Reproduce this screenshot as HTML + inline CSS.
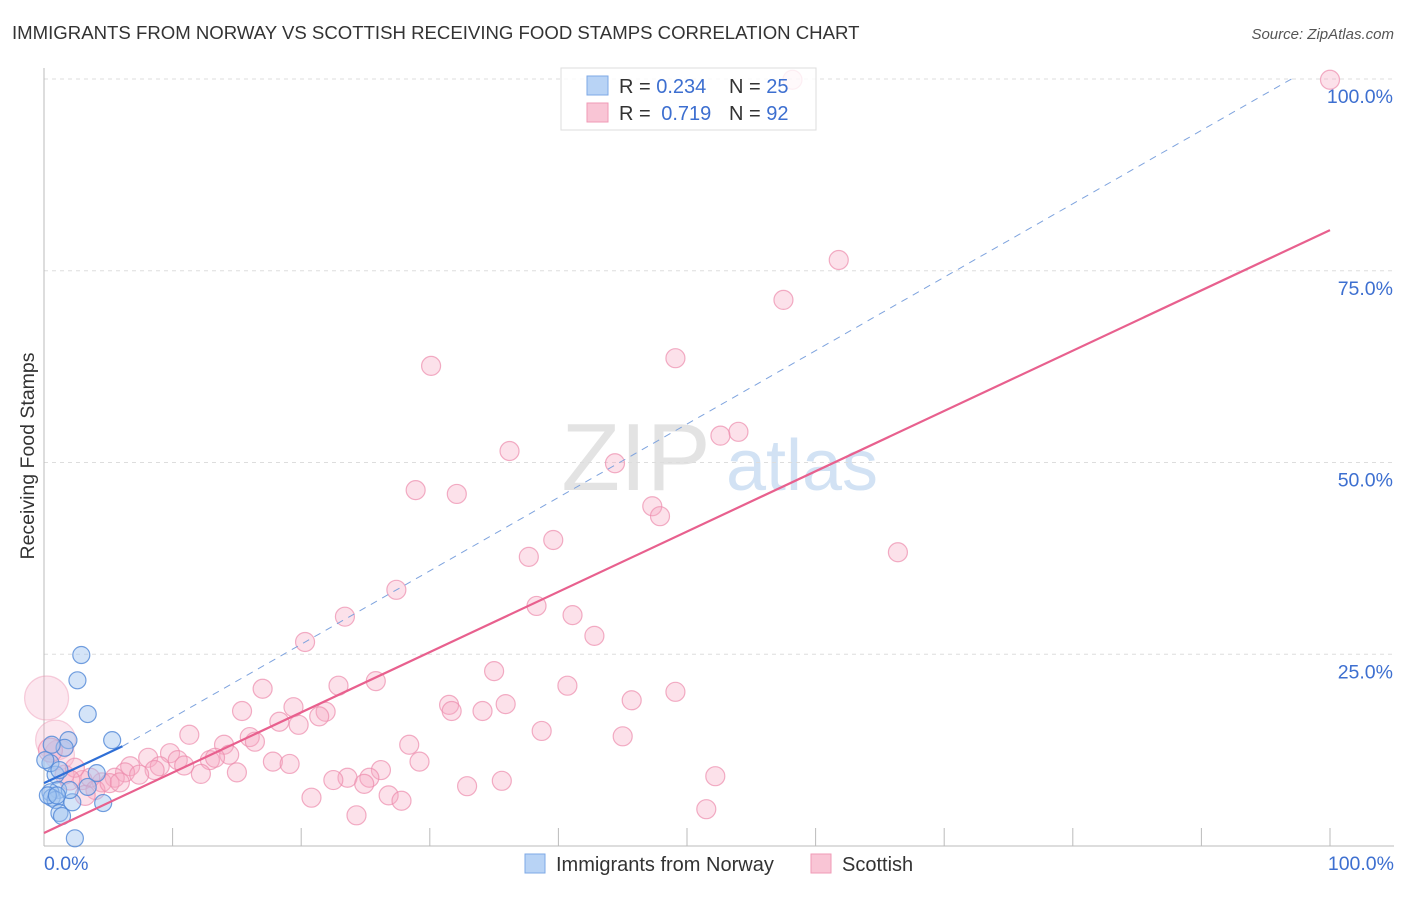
<!DOCTYPE html>
<html><head><meta charset="utf-8"><style>
body{margin:0;background:#fff;font-family:"Liberation Sans",sans-serif;}
svg text{font-family:"Liberation Sans",sans-serif;}
</style></head><body>
<svg width="1406" height="892" viewBox="0 0 1406 892" xmlns="http://www.w3.org/2000/svg">
<text x="12" y="39" font-size="18.6" fill="#333">IMMIGRANTS FROM NORWAY VS SCOTTISH RECEIVING FOOD STAMPS CORRELATION CHART</text>
<text x="1394" y="39" font-size="15" fill="#555" font-style="italic" text-anchor="end">Source: ZipAtlas.com</text>
<text transform="translate(34,456) rotate(-90)" font-size="19.5" fill="#333" text-anchor="middle">Receiving Food Stamps</text>
<g>
<text x="636" y="490" font-size="96" fill="#ddd" font-family="Liberation Serif" text-anchor="middle" opacity="0.8">ZIP</text>
<text x="802" y="490" font-size="72" fill="#c8dcf2" text-anchor="middle" opacity="0.8">atlas</text>
</g>
<g id="grid"></g>
<g id="axes"></g>
<g id="marks"></g>
<g id="lines"></g>
<g>
<rect x="561" y="68" width="255" height="62" fill="rgba(255,255,255,0.8)" stroke="#ddd"/>
<rect x="587" y="76" width="21" height="19" fill="#b8d3f5" stroke="#7ea8e6"/>
<rect x="587" y="103" width="21" height="19" fill="#f9c5d5" stroke="#f09ab6"/>
<text x="619" y="93" font-size="20" fill="#333">R = <tspan fill="#3d6fd0">0.234</tspan></text>
<text x="729" y="93" font-size="20" fill="#333">N = <tspan fill="#3d6fd0">25</tspan></text>
<text x="619" y="120" font-size="20" fill="#333">R = <tspan fill="#3d6fd0" dx="5">0.719</tspan></text>
<text x="729" y="120" font-size="20" fill="#333">N = <tspan fill="#3d6fd0">92</tspan></text>
</g>
<g>
<rect x="525" y="854" width="20" height="19" fill="#b8d3f5" stroke="#7ea8e6"/>
<text x="556" y="871" font-size="20" fill="#333">Immigrants from Norway</text>
<rect x="811" y="854" width="20" height="19" fill="#f9c5d5" stroke="#f09ab6"/>
<text x="842" y="871" font-size="20" fill="#333">Scottish</text>
</g>
</svg>
<script>
const yTicks=[25,50,75,100];
const yTickLabels=["25.0%","50.0%","75.0%","100.0%"];
const xTickLabels=["0.0%","100.0%"];
const norwayX=[2.9,2.6,3.4,5.3,1.9,1.6,0.9,1.1,0.5,0.6,0.9,1.2,2.2,4.1,3.4,4.6,1.4,2.4,0.5,1.2,0.1,0.3,2.0,1.0,0.6];
const norwayY=[24.9,21.6,17.2,13.8,13.8,12.8,9.3,7.3,7.0,6.3,6.0,4.3,5.7,9.5,7.7,5.6,3.9,1.0,10.8,9.9,11.2,6.6,7.3,6.6,13.2];
const scotX=[100,58.2,61.8,57.5,49.1,30.1,54,52.6,36.2,44.4,28.9,32.1,47.3,47.9,66.4,39.6,37.7,27.4,38.3,41.1,23.4,42.8,20.3,35,25.8,40.7,22.9,17,49.1,45.7,31.5,35.9,19.4,31.7,34.1,15.4,21.9,21.4,18.3,19.8,38.7,11.3,45,16,14,16.4,28.4,14.4,9.8,8.1,12.9,13.3,10.4,10.9,9,6.7,17.8,19.1,29.2,15,12.2,8.6,6.3,26.2,23.6,25.3,22.5,7.4,5.5,4.5,52.2,24.9,35.6,32.9,26.8,27.8,20.8,51.5,24.3,3,3.6,4,5.1,5.9,1.6,2.4,0.2,0.9,1.2,0.5,2,3.2];
const scotY=[99.9,99.9,76.4,71.2,63.6,62.6,54,53.5,51.5,49.9,46.4,45.9,44.3,43,38.3,39.9,37.7,33.4,31.3,30.1,29.9,27.4,26.6,22.8,21.5,20.9,20.9,20.5,20.1,19,18.4,18.5,18.1,17.6,17.6,17.6,17.5,16.9,16.2,15.8,15,14.5,14.3,14.2,13.2,13.6,13.2,11.9,12.1,11.5,11.2,11.5,11.2,10.5,10.4,10.4,11,10.7,11,9.6,9.4,9.9,9.6,9.9,8.9,8.9,8.6,9.3,8.9,8.3,9.1,8.1,8.5,7.8,6.6,5.9,6.3,4.8,4.0,8.6,8.9,7.3,8.2,8.3,9.3,10.2,19.3,13.8,11.9,12.5,8.6,6.6];
const scotR=[9.5,9.5,9.5,9.5,9.5,9.5,9.5,9.5,9.5,9.5,9.5,9.5,9.5,9.5,9.5,9.5,9.5,9.5,9.5,9.5,9.5,9.5,9.5,9.5,9.5,9.5,9.5,9.5,9.5,9.5,9.5,9.5,9.5,9.5,9.5,9.5,9.5,9.5,9.5,9.5,9.5,9.5,9.5,9.5,9.5,9.5,9.5,9.5,9.5,9.5,9.5,9.5,9.5,9.5,9.5,9.5,9.5,9.5,9.5,9.5,9.5,9.5,9.5,9.5,9.5,9.5,9.5,9.5,9.5,9.5,9.5,9.5,9.5,9.5,9.5,9.5,9.5,9.5,9.5,9.5,9.5,9.5,9.5,9.5,9.5,9.5,22,20,15,12,10,10];
const norwayTrend=[[0,8.2],[6.1,13.0]];
const norwayDash=[[6.1,13.0],[97,100]];
const scotTrend=[[0,1.7],[100,80.3]];
const X0=44,X1=1330,Y0=846,Y1=79;
const sx=v=>X0+(X1-X0)*v/100, sy=v=>Y0-(Y0-Y1)*v/100;
const NS="http://www.w3.org/2000/svg";
function mk(t,a,p){const e=document.createElementNS(NS,t);for(const k in a)e.setAttribute(k,a[k]);p.appendChild(e);return e;}
const grid=document.getElementById('grid'),axes=document.getElementById('axes'),marks=document.getElementById('marks'),lines=document.getElementById('lines');
yTicks.forEach((t,i)=>{
 const l=mk('line',{x1:X0,x2:1394,y1:sy(t),y2:sy(t),stroke:'#ddd','stroke-dasharray':'4,4'},grid);
 
 
 const tx=mk('text',{x:1393,y:sy(t)+24,'font-size':19.5,fill:'#3d6fd0','text-anchor':'end'},axes);
 tx.textContent=yTickLabels[i];
 
 
});
let a=mk('line',{x1:X0,x2:X0,y1:68,y2:Y0,stroke:'#bbb'},axes);


a=mk('line',{x1:X0,x2:1394,y1:Y0,y2:Y0,stroke:'#bbb'},axes);


for(let i=1;i<=10;i++){
 const t=mk('line',{x1:sx(i*10),x2:sx(i*10),y1:828,y2:Y0,stroke:'#bbb'},axes);
 
 
}
[[0,'start',X0],[1,'end',1394]].forEach(([i,an,x])=>{
 const tx=mk('text',{x:x,y:870,'font-size':19.5,fill:'#3d6fd0','text-anchor':an},axes);
 tx.textContent=xTickLabels[i];
 
 
});
scotX.forEach((v,i)=>{
 const big=scotR[i]>12;
 const c=mk('circle',{cx:sx(v),cy:sy(scotY[i]),r:scotR[i],fill:big?'rgba(246,170,196,0.28)':'rgba(246,170,196,0.35)',stroke:big?'rgba(236,140,172,0.4)':'rgba(236,140,172,0.7)','stroke-width':1.2},marks);
 
 
});
norwayX.forEach((v,i)=>{
 const c=mk('circle',{cx:sx(v),cy:sy(norwayY[i]),r:8.5,fill:'rgba(160,196,240,0.45)',stroke:'rgba(80,135,215,0.8)','stroke-width':1.2},marks);
 
 
});
let L=mk('line',{x1:sx(norwayDash[0][0]),y1:sy(norwayDash[0][1]),x2:sx(norwayDash[1][0]),y2:sy(norwayDash[1][1]),stroke:'#7ea3de','stroke-width':1,'stroke-dasharray':'7,6'},lines);


L=mk('line',{x1:sx(scotTrend[0][0]),y1:sy(scotTrend[0][1]),x2:sx(scotTrend[1][0]),y2:sy(scotTrend[1][1]),stroke:'#e8608e','stroke-width':2.2},lines);


L=mk('line',{x1:sx(norwayTrend[0][0]),y1:sy(norwayTrend[0][1]),x2:sx(norwayTrend[1][0]),y2:sy(norwayTrend[1][1]),stroke:'#2f6fd6','stroke-width':2.2},lines);


</script>
</body></html>
